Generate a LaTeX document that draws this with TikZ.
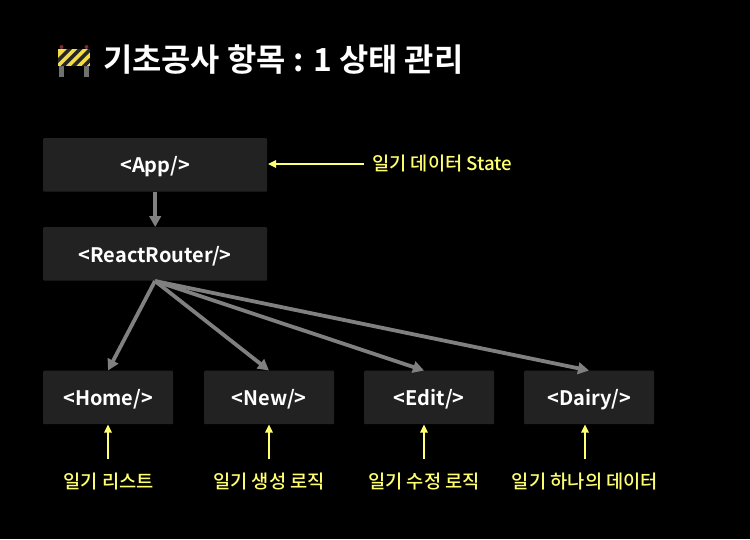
\documentclass[tikz,border=0pt]{standalone}
\usepackage{fontspec}
\setmainfont{Noto Sans CJK KR}[BoldFont={Noto Sans CJK KR Bold}]
\newfontfamily\labfont{Noto Sans CJK KR Medium}
\usetikzlibrary{arrows.meta}
\definecolor{boxfill}{HTML}{222222}
\definecolor{lab}{HTML}{FFFF70}
\definecolor{grayarrow}{HTML}{808080}
\definecolor{stripe}{HTML}{F5DC45}
\definecolor{legcol}{HTML}{707070}
\definecolor{knob}{HTML}{7A2C2C}
\tikzset{
  x=1pt,y=-1pt,
  comp/.style={fill=boxfill,rounded corners=1pt,inner sep=0pt,text=white,font=\fontsize{20}{24}\selectfont\bfseries,anchor=north west},
  widebox/.style={comp,minimum width=224pt,minimum height=53.5pt},
  smallbox/.style={comp,minimum width=130pt,minimum height=53.5pt},
  lbl/.style={text=lab,font=\fontsize{18.7}{22}\selectfont\labfont,inner sep=0pt},
  grayline/.style={draw=grayarrow,line width=3.8pt,-{Triangle[length=11pt,width=11.5pt]}},
  yelline/.style={draw=lab,line width=1.5pt,-{Triangle[length=8pt,width=7.5pt]}},
}
\newcommand{\tg}[1]{\raisebox{-1.8pt}[\height][\depth]{\symbol{60}#1/\symbol{62}}}
\begin{document}
\begin{tikzpicture}
\useasboundingbox[fill=black] (0,0) rectangle (750,539);
% barrier icon
\fill[legcol] (59,66) rectangle (64,77);
\fill[legcol] (84,66) rectangle (89,77);
\fill[legcol] (60,50) rectangle (63,58);
\fill[legcol] (85,50) rectangle (88,58);
\fill[knob] (61.5,47) circle (2);
\fill[knob] (86.5,47) circle (2);
\begin{scope}
\clip (58,49) rectangle (90,66);
\fill[stripe] (58,49) rectangle (90,66);
\foreach \s in {50,60.5,71,81.5,92}
  \fill[black!85] (\s,66) -- (\s+5,66) -- (\s+22,49) -- (\s+17,49) -- cycle;
\end{scope}
\node[anchor=west,text=white,inner sep=0pt,font=\fontsize{31.8}{36}\selectfont\bfseries] (title) at (103,60) {기초공사 항목 : 1 상태 관리};
% boxes
\node[widebox] (app) at (43,138) {\tg{App}};
\node[widebox] (router) at (43,227) {\tg{ReactRouter}};
\node[smallbox] (home) at (43,370.5) {\tg{Home}};
\node[smallbox] (new) at (204,370.5) {\tg{New}};
\node[smallbox] (edit) at (364,370.5) {\tg{Edit}};
\node[smallbox] (dairy) at (524,370.5) {\tg{Dairy}};
% labels
\node[lbl,anchor=west] (state) at (372,164) {일기 데이터 State};
\node[lbl] (l1) at (108.5,481) {일기 리스트};
\node[lbl] (l2) at (269,481) {일기 생성 로직};
\node[lbl] (l3) at (424,481) {일기 수정 로직};
\node[lbl] (l4) at (585,481) {일기 하나의 데이터};
% gray connectors
\draw[grayline] (app.south) -- (router.north);
\coordinate (hub) at (155,281);
\coordinate (eh) at (108,370.5);
\coordinate (en) at (269,370.5);
\coordinate (ee) at (424,370.5);
\coordinate (ed) at (589,370.5);
\draw[grayline] (hub) -- (eh);
\draw[grayline] (hub) -- (en);
\draw[grayline] (hub) -- (ee);
\draw[grayline] (hub) -- (ed);
% yellow connectors
\coordinate (sa) at (364,164);
\coordinate (ta) at (268,164);
\draw[yelline] (sa) -- (ta);
\foreach \n/\x in {1/108,2/269,3/424,4/585}{
  \coordinate (s\n) at (\x,459);
  \coordinate (t\n) at (\x,424.5);
  \draw[yelline] (s\n) -- (t\n);
}
\end{tikzpicture}
\end{document}
